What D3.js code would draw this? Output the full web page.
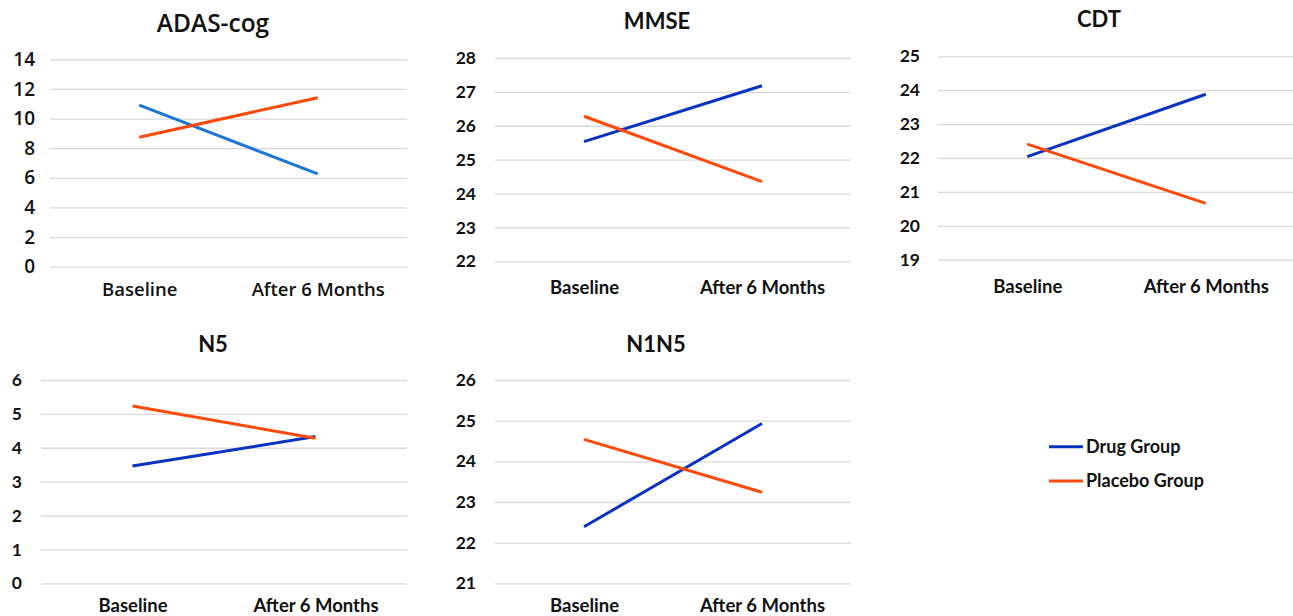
<!DOCTYPE html>
<html>
<head>
<meta charset="utf-8">
<script src="https://cdn.jsdelivr.net/npm/d3@7"></script>
<style>
  html, body { margin: 0; padding: 0; background: #fff; }
  svg { display: block; }
</style>
</head>
<body>
<svg id="chart" width="1293" height="616"></svg>
<script>
// Time points shared by every panel
const timepoints = ["Baseline", "After 6 Months"];

// Panel titles
const titles = ["ADAS-cog", "MMSE", "CDT", "N5", "N1N5"];

// Mean scores per group, in the order of the time points
const drugValues = [
  [10.9, 6.26],   // ADAS-cog
  [25.53, 27.18], // MMSE
  [22.04, 23.88], // CDT
  [3.46, 4.33],   // N5
  [22.39, 24.93]  // N1N5
];
const placeboValues = [
  [8.74, 11.41],
  [26.28, 24.35],
  [22.41, 20.66],
  [5.23, 4.28],
  [24.54, 23.24]
];

// Y axis tick values for each panel
const yTicks = [
  [0, 2, 4, 6, 8, 10, 12, 14],
  [22, 23, 24, 25, 26, 27, 28],
  [19, 20, 21, 22, 23, 24, 25],
  [0, 1, 2, 3, 4, 5, 6],
  [21, 22, 23, 24, 25, 26]
];

const groupNames = ["Drug Group", "Placebo Group"];

const sansA = "'Open Sans', 'Noto Sans', sans-serif";
const sansB = "Lato, 'Liberation Sans', sans-serif";

// Layout of each panel: plot area, title position and type sizes
const panels = [
  { x0: 50,  x1: 407,  y0: 59.3, y1: 266.7, titleX: 213, titleY: 32, labelY: 296, tickX: 35, font: sansA, weight: 600, titleSize: 24.5, tickSize: 19, labelSize: 18.5, drugColor: "#1f74d8" },
  { x0: 495, x1: 851,  y0: 58,   y1: 261.3, titleX: 657, titleY: 29, labelY: 294, tickX: 476, font: sansB, weight: 700, titleSize: 22, tickSize: 17.5, labelSize: 18.5, drugColor: "#0a32c0" },
  { x0: 938, x1: 1295, y0: 56.3, y1: 259.7, titleX: 1099, titleY: 27, labelY: 293, tickX: 920, font: sansB, weight: 700, titleSize: 22, tickSize: 17.5, labelSize: 18.5, drugColor: "#0a32c0" },
  { x0: 41,  x1: 407,  y0: 380,  y1: 583.3, titleX: 213, titleY: 352, labelY: 612, tickX: 22, font: sansB, weight: 700, titleSize: 22, tickSize: 17.5, labelSize: 18.5, drugColor: "#0a32c0" },
  { x0: 495, x1: 851,  y0: 380,  y1: 583.3, titleX: 656, titleY: 352, labelY: 612, tickX: 476, font: sansB, weight: 700, titleSize: 22, tickSize: 17.5, labelSize: 18.5, drugColor: "#0a32c0" }
];

const placeboColor = "#ff4a0a";
const svg = d3.select("#chart");

panels.forEach((p, i) => {
  const ticks = yTicks[i];
  const x = d3.scalePoint().domain(timepoints).range([p.x0, p.x1]).padding(0.5);
  const y = d3.scaleLinear().domain([ticks[0], ticks[ticks.length - 1]]).range([p.y1, p.y0]);
  const g = svg.append("g");

  // Title
  g.append("text")
    .attr("x", p.titleX).attr("y", p.titleY)
    .attr("text-anchor", "middle")
    .style("font-family", p.font)
    .style("font-weight", p.weight)
    .style("font-size", p.titleSize + "px")
    .attr("fill", "#111")
    .text(titles[i]);

  // Horizontal gridlines with value labels
  const yAxis = d3.axisLeft(y).tickValues(ticks).tickSize(-(p.x1 - p.x0)).tickFormat(d3.format("d")).tickPadding(p.x0 - p.tickX);
  const ya = g.append("g").attr("transform", `translate(${p.x0},0)`).call(yAxis);
  ya.select(".domain").remove();
  ya.selectAll(".tick line").attr("stroke", "#d9d9d9").attr("stroke-width", 1.3);
  ya.selectAll(".tick text")
    .style("font-family", p.font)
    .style("font-weight", p.weight)
    .style("font-size", p.tickSize + "px")
    .attr("fill", "#111");

  // Category labels
  const xAxis = d3.axisBottom(x).tickSize(0).tickPadding(0);
  const xa = g.append("g").attr("transform", `translate(0,${p.labelY})`).call(xAxis);
  xa.select(".domain").remove();
  xa.selectAll(".tick text")
    .attr("dy", 0)
    .style("font-family", p.font)
    .style("font-weight", p.weight)
    .style("font-size", p.labelSize + "px")
    .attr("fill", "#111");

  const line = d3.line().x((d, k) => x(timepoints[k])).y(d => y(d));

  g.append("path").datum(drugValues[i])
    .attr("d", line).attr("fill", "none")
    .attr("stroke", p.drugColor).attr("stroke-width", 3);
  g.append("path").datum(placeboValues[i])
    .attr("d", line).attr("fill", "none")
    .attr("stroke", placeboColor).attr("stroke-width", 3);
});

// Legend
const legendColors = ["#0a32c0", placeboColor];
const legend = svg.append("g");
groupNames.forEach((name, k) => {
  const ly = 446.7 + k * 34.3;
  legend.append("line")
    .attr("x1", 1049).attr("x2", 1083).attr("y1", ly).attr("y2", ly)
    .attr("stroke", legendColors[k]).attr("stroke-width", 3);
  legend.append("text")
    .attr("x", 1086).attr("y", ly + 6)
    .style("font-family", sansB)
    .style("font-weight", 700)
    .style("font-size", "18px")
    .attr("fill", "#111")
    .text(name);
});
</script>
</body>
</html>
